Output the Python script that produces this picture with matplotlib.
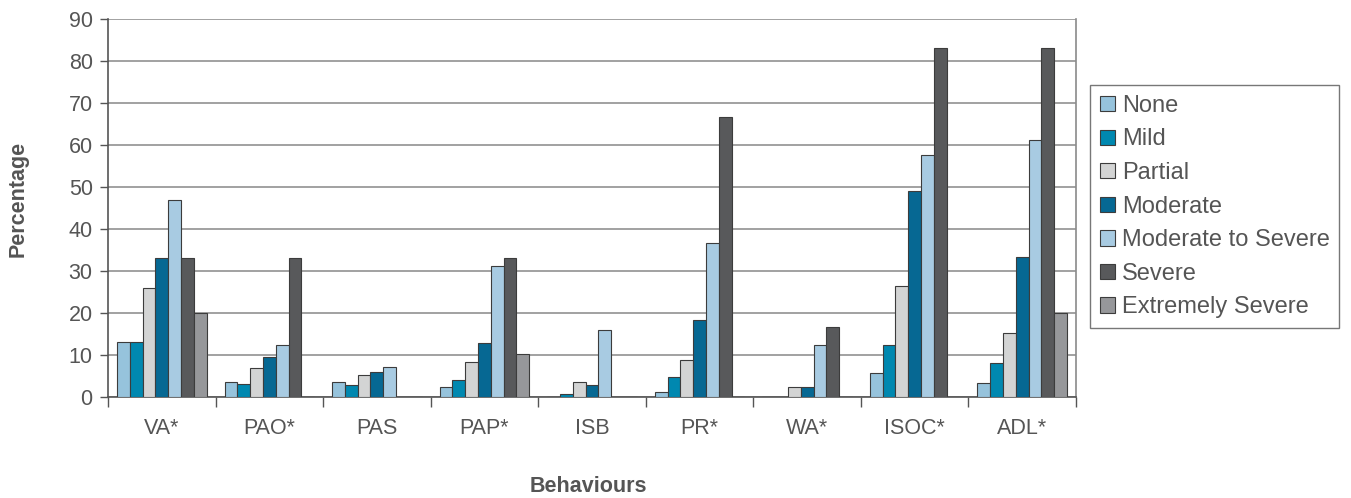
import matplotlib
matplotlib.use("Agg")
import matplotlib.pyplot as plt
import numpy as np

plt.rcParams['font.family'] = ['Liberation Sans', 'DejaVu Sans']

behaviours = ["VA*", "PAO*", "PAS", "PAP*", "ISB", "PR*", "WA*", "ISOC*", "ADL*"]
levels = ["None", "Mild", "Partial", "Moderate", "Moderate to Severe", "Severe", "Extremely Severe"]

none_vals     = [13.0, 3.5, 3.5, 2.4, 0.0, 1.1, 0.0, 5.8, 3.4]
mild_vals     = [13.0, 3.0, 2.9, 4.1, 0.6, 4.8, 0.0, 12.3, 8.2]
partial_vals  = [26.0, 7.0, 5.3, 8.3, 3.5, 8.9, 2.4, 26.5, 15.3]
moderate_vals = [33.0, 9.5, 5.9, 12.9, 2.9, 18.3, 2.4, 49.0, 33.4]
mod_sev_vals  = [47.0, 12.3, 7.1, 31.3, 16.0, 36.6, 12.5, 57.6, 61.2]
severe_vals   = [33.0, 33.0, 0.0, 33.0, 0.0, 66.6, 16.6, 83.0, 83.0]
ext_sev_vals  = [20.0, 0.0, 0.0, 10.2, 0.0, 0.0, 0.0, 0.0, 20.0]

series = [none_vals, mild_vals, partial_vals, moderate_vals,
          mod_sev_vals, severe_vals, ext_sev_vals]
colors = ["#96c3dc", "#0088b0", "#d3d4d4", "#066893",
          "#a8cbe2", "#58595b", "#96979a"]

text_color = "#555555"

fig = plt.figure(figsize=(13.51, 4.98), dpi=100)
ax = fig.add_axes([108 / 1351, 1 - 397 / 498, (1076 - 108) / 1351, (397 - 19) / 498])

n_cat = len(behaviours)
x = np.arange(n_cat)
bar_w = 0.119
offsets = (np.arange(len(series)) - (len(series) - 1) / 2) * bar_w

for vals, col, lab, off in zip(series, colors, levels, offsets):
    ax.bar(x + off, vals, width=bar_w, color=col, edgecolor="#3c3c3c",
           linewidth=0.8, label=lab, zorder=3)

ax.set_xlim(-0.5, n_cat - 0.5)
ax.set_ylim(0, 90)
ax.set_yticks(np.arange(0, 91, 10))
ax.yaxis.grid(True, color="#9a9a9a", linewidth=1.3, zorder=0)
ax.set_axisbelow(True)

# category boundaries as major ticks, names centred via minor ticks
ax.set_xticks(np.arange(-0.5, n_cat, 1.0))
ax.set_xticklabels([])
ax.set_xticks(x, minor=True)
ax.set_xticklabels(behaviours, minor=True)
ax.tick_params(axis="x", which="major", length=7, width=1, color="#555555", direction="out")
ax.tick_params(axis="x", which="minor", length=0, pad=15, labelsize=15.5, labelcolor=text_color)
ax.tick_params(axis="y", length=6, width=1, color="#555555", pad=5,
               labelsize=15.5, labelcolor=text_color)

for side in ["left", "bottom"]:
    ax.spines[side].set_color("#555555")
    ax.spines[side].set_linewidth(1.2)
ax.spines["right"].set_color("#8a8a8a")
ax.spines["right"].set_linewidth(1.2)
ax.spines["top"].set_visible(False)

fig.text(588 / 1351, 1 - 486 / 498, "Behaviours", ha="center", va="center",
         fontsize=15.5, fontweight="bold", color=text_color)
fig.text(18 / 1351, 1 - 199 / 498, "Percentage", ha="center", va="center",
         rotation=90, fontsize=15.5, fontweight="bold", color=text_color)

leg = fig.legend(loc="upper left", bbox_to_anchor=(1090 / 1351, 1 - 85 / 498),
                 frameon=True, fancybox=False, fontsize=17,
                 handlelength=0.62, handleheight=0.62, handletextpad=0.3,
                 labelspacing=0.49, borderpad=0.42, borderaxespad=0)
leg.get_frame().set_edgecolor("#555555")
leg.get_frame().set_linewidth(1.0)
for t in leg.get_texts():
    t.set_color(text_color)

fig.savefig("out.png", dpi=100)
